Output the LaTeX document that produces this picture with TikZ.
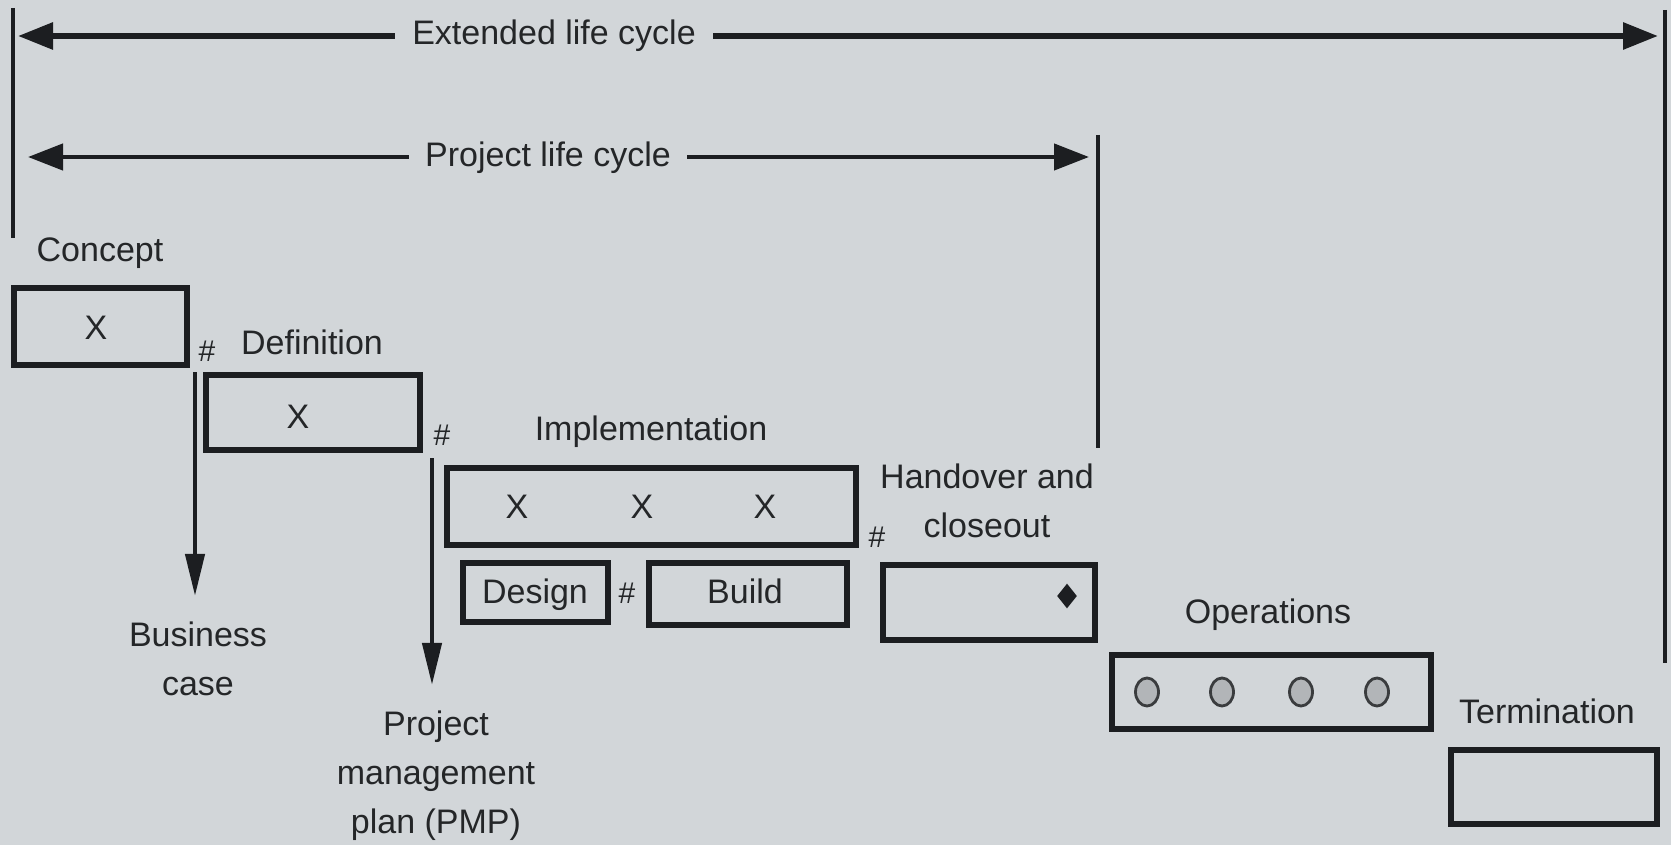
\documentclass[tikz,border=0pt]{standalone}
\usepackage{fontspec}
\setmainfont{Liberation Sans}
\usetikzlibrary{arrows.meta,shapes.geometric}
\definecolor{paper}{RGB}{210,214,217}
\definecolor{ink}{RGB}{28,30,33}
\definecolor{txt}{RGB}{36,38,40}
\definecolor{dotfill}{RGB}{178,181,184}
\definecolor{dotring}{RGB}{58,60,62}

\begin{document}
\begin{tikzpicture}[x=0.5pt,y=-0.5pt,
  lbl/.style={inner sep=0pt, text=txt, anchor=base, align=center,
    font=\fontsize{17}{24.5}\selectfont},
  hashmark/.style={inner sep=0pt, text=txt, anchor=base,
    font=\fontsize{15}{15}\selectfont},
  phasebox/.style={draw=ink, line width=3pt, inner sep=0pt},
  bar/.style={draw=ink, line width=2.2pt},
  extline/.style={draw=ink, line width=3pt},
  projline/.style={draw=ink, line width=2.2pt},
  htip/.style={arrows={-Triangle[length=17.5pt,width=13pt]}},
  vtip/.style={draw=ink, line width=2.2pt, arrows={-Triangle[length=21pt,width=9.5pt]}},
  dotmark/.style={ellipse, minimum width=11.5pt, minimum height=14pt, inner sep=0pt,
    fill=dotfill, draw=dotring, line width=1.4pt},
]
% canvas
\fill[paper] (0,0) rectangle (1671,845);
\useasboundingbox (0,0) rectangle (1671,845);

% boundary bars of the two life cycles
\coordinate (extTop) at (13,8);
\coordinate (extBot) at (13,238);
\coordinate (endTop) at (1665,10);
\coordinate (endBot) at (1665,663);
\coordinate (projTop) at (1098,135);
\coordinate (projBot) at (1098,448);
\draw[bar] (extTop) -- (extBot);
\draw[bar] (endTop) -- (endBot);
\draw[bar] (projTop) -- (projBot);

% extended life cycle span
\coordinate (extL) at (18,36);
\coordinate (extR) at (1658,36);
\node[lbl, inner xsep=8.5pt] (extlabel) at (554,45) {Extended life cycle};
\draw[extline, htip] (extL -| extlabel.west) -- (extL);
\draw[extline, htip] (extR -| extlabel.east) -- (extR);

% project life cycle span
\coordinate (projL) at (28,157);
\coordinate (projR) at (1089,157);
\node[lbl, inner xsep=8pt] (projlabel) at (548,167) {Project life cycle};
\draw[projline, htip] (projL -| projlabel.west) -- (projL);
\draw[projline, htip] (projR -| projlabel.east) -- (projR);

% concept
\node[lbl] (conceptlabel) at (100,262) {Concept};
\node[phasebox, minimum width=86.5pt, minimum height=38.5pt] (concept) at (100.5,326.5) {};
\node[lbl] (conceptx) at (96,340) {X};
\node[hashmark] (hash1) at (207,362) {\#};

% definition
\node[lbl] (definitionlabel) at (312,355) {Definition};
\node[phasebox, minimum width=107pt, minimum height=37.5pt] (definition) at (313,412.5) {};
\node[lbl] (definitionx) at (298,428) {X};
\node[hashmark] (hash2) at (442,445) {\#};

% business case output (base anchor sits on the last line)
\coordinate (bcStart) at (195,372);
\node[lbl] (bizcase) at (198,695) {Business\\case};
\draw[vtip, shorten >=12.5pt] (bcStart) -- (bcStart |- bizcase.north);

% project management plan output
\coordinate (pmpStart) at (432,458);
\node[lbl] (pmp) at (436,833) {Project\\management\\plan (PMP)};
\draw[vtip, shorten >=12.5pt] (pmpStart) -- (pmpStart |- pmp.north);

% implementation
\node[lbl] (impllabel) at (651,440) {Implementation};
\node[phasebox, minimum width=204.5pt, minimum height=38.5pt] (impl) at (651.5,506.5) {};
\node[lbl] (implx1) at (517,518) {X};
\node[lbl] (implx2) at (642,518) {X};
\node[lbl] (implx3) at (765,518) {X};
\node[phasebox, minimum width=72.5pt, minimum height=29.5pt] (design) at (535.5,592.5) {};
\node[lbl] (designlabel) at (535,603) {Design};
\node[hashmark] (hash3) at (627,603) {\#};
\node[phasebox, minimum width=99pt, minimum height=31pt] (build) at (748,594) {};
\node[lbl] (buildlabel) at (745,603) {Build};
\node[hashmark] (hash4) at (877,547) {\#};

% handover and closeout
\node[lbl] (handoverlabel) at (987,537) {Handover and\\closeout};
\node[phasebox, minimum width=106pt, minimum height=37.5pt] (handover) at (989,602.5) {};
\node[diamond, aspect=0.8, fill=ink, minimum width=10pt, minimum height=12.5pt, inner sep=0pt] (milestone) at (1067,596) {};

% operations
\node[lbl] (operationslabel) at (1268,623) {Operations};
\node[phasebox, minimum width=159.5pt, minimum height=37pt] (operations) at (1271.5,692) {};
\node[dotmark] (op1) at (1147,692) {};
\node[dotmark] (op2) at (1222,692) {};
\node[dotmark] (op3) at (1301,692) {};
\node[dotmark] (op4) at (1377,692) {};

% termination
\node[lbl] (terminationlabel) at (1547,723) {Termination};
\node[phasebox, minimum width=103pt, minimum height=37pt] (termination) at (1554,787) {};
\end{tikzpicture}
\end{document}
